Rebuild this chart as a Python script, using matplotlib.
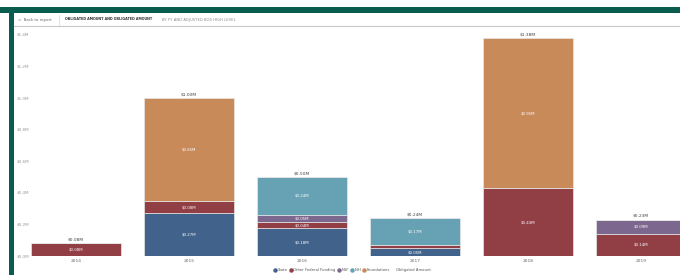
import matplotlib
matplotlib.use('Agg')
import matplotlib.pyplot as plt
import matplotlib.transforms as mtrans
from matplotlib.lines import Line2D
from matplotlib.patches import Rectangle
import numpy as np

years = ['2014', '2015', '2016', '2017', '2018', '2019']
series = ['State', 'Other Federal Funding', 'NSF', 'NIH', 'Foundations']
colors = ['#41628B', '#913F45', '#7C688E', '#67A2B4', '#C98A5A']

state = [0.0, 0.27, 0.176, 0.05, 0.0, 0.0]
other_fed = [0.08, 0.08, 0.04, 0.02, 0.43, 0.14]
nsf = [0.0, 0.0, 0.046, 0.0, 0.0, 0.09]
nih = [0.0, 0.0, 0.238, 0.17, 0.0, 0.0]
foundations = [0.0, 0.65, 0.0, 0.0, 0.95, 0.0]

yticks = [0.0, 0.2, 0.4, 0.6, 0.8, 1.0, 1.2, 1.4]

green = '#0A5C4E'
W, H = 680, 275
fig = plt.figure(figsize=(W / 100, H / 100), dpi=100)
fig.patch.set_facecolor('white')

# frame of the report page
fig.add_artist(Rectangle((0, 1 - 13 / H), 1, 6 / H, transform=fig.transFigure, color=green, lw=0))
fig.add_artist(Rectangle((9 / W, 0), 5 / W, 1 - 7 / H, transform=fig.transFigure, color=green, lw=0))
fig.add_artist(Line2D([14 / W, 1], [1 - 26 / H] * 2, transform=fig.transFigure, color='#c8c8c8', lw=0.8))
fig.add_artist(Line2D([59 / W] * 2, [1 - 15 / H, 1 - 25 / H], transform=fig.transFigure, color='#dddddd', lw=0.6))

fig.text(18 / W, 1 - 20 / H, '<  Back to report', fontsize=2.8, color='#666666', va='center')
fig.text(65 / W, 1 - 19.5 / H, 'OBLIGATED AMOUNT AND OBLIGATED AMOUNT', fontsize=2.45,
         color='#333333', va='center', fontweight='bold')
fig.text(162 / W, 1 - 19.5 / H, 'BY FY AND ADJUSTED BOS HIGH LEVEL', fontsize=2.7,
         color='#8a8a8a', va='center')

# plot area, x centres 113 px apart starting at 76 px
x0 = 76 - 113 * 0.5
ax = fig.add_axes([x0 / W, (H - 256) / H, 113 * 6 / W, 221 / H])
ax.set_xlim(-0.5, 5.5)
ax.set_ylim(0, 1.4)
for s in ax.spines.values():
    s.set_visible(False)
ax.set_yticks([])
ax.set_xticks(range(len(years)))
ax.set_xticklabels(years, fontsize=3.2, color='#666666')
ax.tick_params(axis='x', length=0, pad=2)

x = np.arange(len(years))
data = [state, other_fed, nsf, nih, foundations]
bottom = np.zeros(len(years))
for vals, name, c in zip(data, series, colors):
    vals = np.array(vals)
    ax.bar(x, vals, 0.8, bottom=bottom, color=c, edgecolor='#e6e6e6', linewidth=0.5, label=name)
    for xi, v, b in zip(x, vals, bottom):
        if v > 0.03:
            ax.text(xi, b + v / 2, '$%.2fM' % v, ha='center', va='center', fontsize=2.8, color='white')
    bottom = bottom + vals

for xi, t in zip(x, bottom):
    ax.text(xi, t + 0.012, '$%.2fM' % t, ha='center', va='bottom', fontsize=3.2, color='#444444')

# y labels sit at a fixed pixel position over the left margin
ytrans = mtrans.blended_transform_factory(fig.transFigure, ax.transData)
for t in yticks:
    ax.text(17 / W, t, '$%.1fM' % t, transform=ytrans, ha='left', va='center',
            fontsize=3.0, color='#999999')

handles = [Line2D([], [], marker='o', ls='', color=c, markersize=2.2) for c in colors]
handles.append(Line2D([], [], ls='', marker=''))
labels = series + ['Obligated Amount']
fig.legend(handles, labels, loc='center', bbox_to_anchor=(352 / W, 1 - 270 / H), ncol=6,
           frameon=False, fontsize=2.7, handletextpad=0.3, columnspacing=0.4, handlelength=0.8,
           labelcolor='#555555')

fig.savefig('out.png', dpi=100, facecolor='white')
